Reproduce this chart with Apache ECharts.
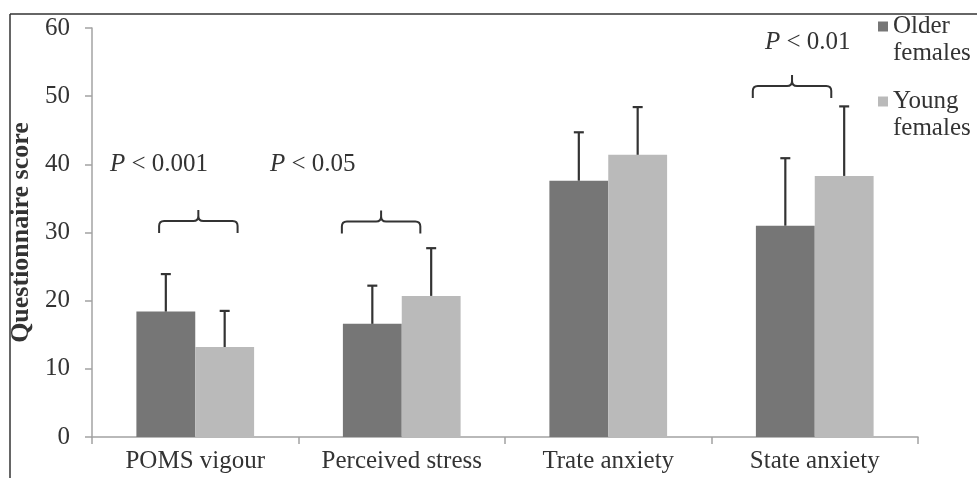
<!DOCTYPE html>
<html>
<head>
<meta charset="utf-8">
<script src="https://cdn.jsdelivr.net/npm/echarts@6/dist/echarts.min.js"></script>
<style>html,body{margin:0;padding:0;background:#fff}#c{width:977px;height:478px}</style>
</head>
<body>
<div id="c"></div>
<script>
const categories = ['POMS vigour', 'Perceived stress', 'Trate anxiety', 'State anxiety'];
const seriesNames = ['Older females', 'Young females'];
const olderMean = [18.4, 16.6, 37.6, 31.0];
const olderSD = [5.5, 5.6, 7.1, 9.9];
const youngMean = [13.2, 20.7, 41.4, 38.3];
const youngSD = [5.3, 7.0, 7.0, 10.2];
const yTicks = [0, 10, 20, 30, 40, 50, 60];
const bracketCats = [0, 1, 3];
const bracketLevel = [31.7, 31.6, 51.5];
const pValues = ['0.001', '0.05', '0.01'];

const FONT = '"Liberation Serif", "Times New Roman", serif';
const TXT = '#333';
const BAR_W = 0.285;
const bracketShift = [0.015, -0.1, -0.11];
const bracketHalf = 0.19;
const pLabelPos = [[110, 165], [270, 165], [765, 43]];

const chart = echarts.init(document.getElementById('c'));

function errData(mean, sd) {
  return mean.map((m, i) => [i, m, +(m + sd[i]).toFixed(2)]);
}
function errRender(sign) {
  return function (params, api) {
    const cat = api.value(0);
    const p0 = api.coord([cat, api.value(1)]);
    const p1 = api.coord([cat, api.value(2)]);
    const band = api.size([1, 0])[0];
    const x = p0[0] + sign * band * BAR_W / 2;
    const st = { stroke: '#333', lineWidth: 2.2 };
    return {
      type: 'group',
      children: [
        { type: 'line', shape: { x1: x, y1: p0[1], x2: x, y2: p1[1] }, style: st },
        { type: 'line', shape: { x1: x - 5, y1: p1[1], x2: x + 5, y2: p1[1] }, style: st }
      ]
    };
  };
}

function bracketRender(params, api) {
  const idx = params.dataIndex;
  const cat = api.value(0);
  const p = api.coord([cat, api.value(1)]);
  const band = api.size([1, 0])[0];
  const xc = p[0] + bracketShift[idx] * band;
  const x1 = xc - bracketHalf * band, x2 = xc + bracketHalf * band;
  const y = p[1], yEnd = y + 12, yPk = y - 11, r = 5;
  const d = 'M' + x1 + ' ' + yEnd + ' L' + x1 + ' ' + (y + r) +
    ' Q' + x1 + ' ' + y + ' ' + (x1 + r) + ' ' + y +
    ' L' + (xc - r) + ' ' + y + ' Q' + xc + ' ' + y + ' ' + xc + ' ' + (y - r) +
    ' L' + xc + ' ' + yPk +
    ' M' + xc + ' ' + (y - r) + ' Q' + xc + ' ' + y + ' ' + (xc + r) + ' ' + y +
    ' L' + (x2 - r) + ' ' + y + ' Q' + x2 + ' ' + y + ' ' + x2 + ' ' + (y + r) +
    ' L' + x2 + ' ' + yEnd;
  return { type: 'path', shape: { pathData: d }, style: { stroke: '#333', lineWidth: 2, fill: null } };
}

const pGraphics = pValues.map((v, i) => ({
  type: 'text',
  left: pLabelPos[i][0],
  top: pLabelPos[i][1] - 13,
  style: {
    text: '{i|P} < ' + v,
    font: '25px ' + FONT,
    fill: TXT,
    rich: { i: { fontStyle: 'italic', fontSize: 25, fontFamily: FONT, fill: TXT } }
  }
}));

chart.setOption({
  animation: false,
  grid: { left: 90, right: 59, top: 28, bottom: 41 },
  legend: {
    data: seriesNames,
    orient: 'vertical',
    left: 878,
    top: -14,
    padding: 0,
    itemWidth: 10,
    itemHeight: 10,
    itemGap: -6,
    icon: 'rect',
    formatter: n => '\u00a0\n' + n.replace(' ', '\n'),
    textStyle: { fontFamily: FONT, fontSize: 25, color: TXT, lineHeight: 27 }
  },
  xAxis: {
    type: 'category',
    data: categories,
    axisLine: { lineStyle: { color: '#a3a3a3', width: 1.5 } },
    axisTick: { show: true, length: 7, lineStyle: { color: '#a3a3a3', width: 1.5 } },
    axisLabel: { interval: 0, fontFamily: FONT, fontSize: 25, color: TXT, margin: 12 }
  },
  yAxis: {
    type: 'value',
    min: yTicks[0],
    max: yTicks[yTicks.length - 1],
    interval: yTicks[1] - yTicks[0],
    name: 'Questionnaire score',
    nameLocation: 'middle',
    nameGap: 58,
    nameTextStyle: { fontFamily: FONT, fontSize: 26, fontWeight: 'bold', color: TXT },
    axisLine: { show: true, lineStyle: { color: '#a3a3a3', width: 1.5 } },
    axisTick: { show: true, length: 7, lineStyle: { color: '#a3a3a3', width: 1.5 } },
    splitLine: { show: false },
    axisLabel: { fontFamily: FONT, fontSize: 25, color: TXT, margin: 22 }
  },
  series: [
    { name: seriesNames[0], type: 'bar', data: olderMean, barWidth: (BAR_W * 100) + '%', barGap: '0%', itemStyle: { color: '#767676' } },
    { name: seriesNames[1], type: 'bar', data: youngMean, barWidth: (BAR_W * 100) + '%', barGap: '0%', itemStyle: { color: '#bababa' } },
    { type: 'custom', name: 'errOlder', data: errData(olderMean, olderSD), renderItem: errRender(-1), z: 5, silent: true },
    { type: 'custom', name: 'errYoung', data: errData(youngMean, youngSD), renderItem: errRender(1), z: 5, silent: true },
    { type: 'custom', name: 'brackets', data: bracketCats.map((c, i) => [c, bracketLevel[i]]), renderItem: bracketRender, z: 5, silent: true }
  ],
  graphic: [
    { type: 'line', shape: { x1: 10, y1: 14, x2: 977, y2: 14 }, style: { stroke: '#333', lineWidth: 1.5 } },
    { type: 'line', shape: { x1: 10, y1: 14, x2: 10, y2: 478 }, style: { stroke: '#333', lineWidth: 1.5 } }
  ].concat(pGraphics)
});
</script>
</body>
</html>
